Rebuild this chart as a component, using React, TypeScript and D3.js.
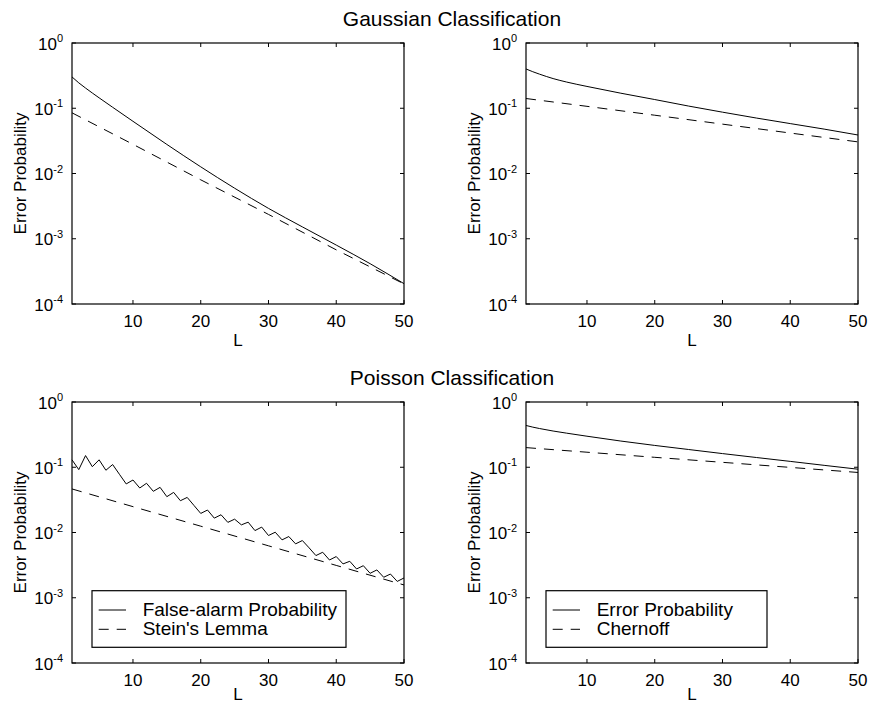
import React from 'react';
import * as d3 from 'd3';

// ---------- data ----------
const L_SMOOTH = [1, 2, 3, 5, 7, 10, 15, 20, 25, 30, 35, 40, 45, 50];
const L_BOUND = [1, 10, 20, 30, 40, 50];
const L_ALL = [
  1, 2, 3, 4, 5, 6, 7, 8, 9, 10, 11, 12, 13, 14, 15, 16, 17, 18, 19, 20, 21, 22, 23, 24, 25,
  26, 27, 28, 29, 30, 31, 32, 33, 34, 35, 36, 37, 38, 39, 40, 41, 42, 43, 44, 45, 46, 47, 48, 49, 50,
];

// Gaussian, left panel
const gaussFalseAlarm = [0.302, 0.245, 0.204, 0.1445, 0.1035, 0.0631, 0.0279, 0.01265, 0.00595, 0.00292, 0.00152, 0.000800, 0.000415, 0.000205];
const gaussStein = [0.0851, 0.0280, 0.00800, 0.00236, 0.000676, 0.000203];
// Gaussian, right panel
const gaussError = [0.400, 0.363, 0.333, 0.285, 0.252, 0.216, 0.170, 0.136, 0.108, 0.0871, 0.0708, 0.0582, 0.0479, 0.0389];
const gaussChernoff = [0.141, 0.107, 0.0782, 0.0571, 0.0417, 0.0305];
// Poisson, left panel
const poissonFalseAlarm = [
  0.130, 0.0920, 0.151, 0.102, 0.130, 0.0900, 0.110, 0.0780, 0.0555, 0.0638,
  0.0481, 0.0568, 0.0428, 0.0492, 0.0354, 0.0412, 0.0307, 0.0345, 0.0260, 0.0196,
  0.0221, 0.0166, 0.0187, 0.0143, 0.0160, 0.0131, 0.0144, 0.0107, 0.0121, 0.00899,
  0.0101, 0.00771, 0.00867, 0.00670, 0.00753, 0.00581, 0.00443, 0.00498, 0.00379, 0.00428,
  0.00330, 0.00362, 0.00276, 0.00310, 0.00237, 0.00267, 0.00206, 0.00231, 0.00178, 0.00201,
];
const poissonStein = [0.0465, 0.0249, 0.0125, 0.00625, 0.00313, 0.00157];
// Poisson, right panel
const poissonError = [0.437, 0.412, 0.392, 0.359, 0.333, 0.299, 0.252, 0.216, 0.187, 0.162, 0.141, 0.123, 0.107, 0.0933];
const poissonChernoff = [0.200, 0.170, 0.142, 0.119, 0.0995, 0.0832];

const X_TICKS = [10, 20, 30, 40, 50];
const Y_TICK_EXP = [0, -1, -2, -3, -4];
const TITLES = ['Gaussian Classification', 'Poisson Classification'];
const LEGEND_LEFT = ['False-alarm Probability', "Stein's Lemma"];
const LEGEND_RIGHT = ['Error Probability', 'Chernoff'];

// ---------- layout ----------
const W = 869;
const H = 704;
const FONT = '"Liberation Sans", Arial, Helvetica, sans-serif';
const COLS = [
  { left: 72, right: 404 },
  { left: 526, right: 858 },
];
const ROWS = [
  { top: 43, bottom: 304, xLabel: 346 },
  { top: 402, bottom: 663, xLabel: 700 },
];
const DASH = '10,8';

type Series = { xs: number[]; ys: number[]; dashed: boolean; curve: d3.CurveFactory };

function Panel({ col, row, series, legend, legendWidth }: {
  col: { left: number; right: number };
  row: { top: number; bottom: number; xLabel: number };
  series: Series[];
  legend?: string[];
  legendWidth?: number;
}) {
  const x = d3.scaleLinear().domain([1, 50]).range([col.left, col.right]);
  const y = d3.scaleLog().domain([1e-4, 1]).range([row.bottom, row.top]);
  const tick = 4;
  return (
    <g>
      {series.map((s, i) => {
        const line = d3
          .line<number>()
          .x((_, j) => x(s.xs[j]))
          .y((v) => y(v))
          .curve(s.curve);
        return (
          <path
            key={i}
            d={line(s.ys) || ''}
            fill="none"
            stroke="#000"
            strokeWidth={1}
            strokeDasharray={s.dashed ? DASH : undefined}
          />
        );
      })}
      <rect
        x={col.left}
        y={row.top}
        width={col.right - col.left}
        height={row.bottom - row.top}
        fill="none"
        stroke="#000"
        strokeWidth={1.2}
      />
      {X_TICKS.map((t) => (
        <g key={'x' + t}>
          <line x1={x(t)} x2={x(t)} y1={row.bottom} y2={row.bottom - tick} stroke="#000" />
          <line x1={x(t)} x2={x(t)} y1={row.top} y2={row.top + tick} stroke="#000" />
          <text x={x(t)} y={row.bottom + 23} textAnchor="middle" fontSize={17} fontFamily={FONT}>
            {t}
          </text>
        </g>
      ))}
      {Y_TICK_EXP.map((e) => {
        const yy = y(Math.pow(10, e));
        return (
          <g key={'y' + e}>
            <line x1={col.left} x2={col.left + tick} y1={yy} y2={yy} stroke="#000" />
            <line x1={col.right} x2={col.right - tick} y1={yy} y2={yy} stroke="#000" />
            <text x={col.left - 9} y={yy + 6.5} textAnchor="end" fontFamily={FONT}>
              <tspan fontSize={17}>10</tspan>
              <tspan fontSize={11} dy={-7.5}>{String(e)}</tspan>
            </text>
          </g>
        );
      })}
      <text
        x={(col.left + col.right) / 2}
        y={row.xLabel}
        textAnchor="middle"
        fontSize={17}
        fontFamily={FONT}
      >
        L
      </text>
      <text
        transform={`translate(${col.left - 46},${(row.top + row.bottom) / 2}) rotate(-90)`}
        textAnchor="middle"
        fontSize={17}
        fontFamily={FONT}
      >
        Error Probability
      </text>
      {legend && (
        <g>
          <rect
            x={col.left + 20}
            y={row.bottom - 72.3}
            width={legendWidth}
            height={56.6}
            fill="#fff"
            stroke="#000"
            strokeWidth={1.2}
          />
          {legend.map((lab, i) => (
            <g key={lab}>
              <line
                x1={col.left + 26.7}
                x2={col.left + 54}
                y1={row.bottom - 53 + i * 19.3}
                y2={row.bottom - 53 + i * 19.3}
                stroke="#000"
                strokeDasharray={i === 1 ? DASH : undefined}
              />
              <text
                x={col.left + 70.7}
                y={row.bottom - 47 + i * 19.3}
                fontSize={19}
                fontFamily={FONT}
              >
                {lab}
              </text>
            </g>
          ))}
        </g>
      )}
    </g>
  );
}

export default function App() {
  const smooth = d3.curveMonotoneX;
  const lin = d3.curveLinear;
  return (
    <svg
      width={W}
      height={H}
      style={{ position: 'absolute', left: 0, top: 0, background: '#fff' }}
    >
      <rect x={0} y={0} width={W} height={H} fill="#fff" />
      <text x={452} y={26} textAnchor="middle" fontSize={21} fontFamily={FONT}>
        {TITLES[0]}
      </text>
      <text x={452} y={385} textAnchor="middle" fontSize={21} fontFamily={FONT}>
        {TITLES[1]}
      </text>
      <Panel
        col={COLS[0]}
        row={ROWS[0]}
        series={[
          { xs: L_SMOOTH, ys: gaussFalseAlarm, dashed: false, curve: smooth },
          { xs: L_BOUND, ys: gaussStein, dashed: true, curve: lin },
        ]}
      />
      <Panel
        col={COLS[1]}
        row={ROWS[0]}
        series={[
          { xs: L_SMOOTH, ys: gaussError, dashed: false, curve: smooth },
          { xs: L_BOUND, ys: gaussChernoff, dashed: true, curve: lin },
        ]}
      />
      <Panel
        col={COLS[0]}
        row={ROWS[1]}
        series={[
          { xs: L_ALL, ys: poissonFalseAlarm, dashed: false, curve: lin },
          { xs: L_BOUND, ys: poissonStein, dashed: true, curve: lin },
        ]}
        legend={LEGEND_LEFT}
        legendWidth={254}
      />
      <Panel
        col={COLS[1]}
        row={ROWS[1]}
        series={[
          { xs: L_SMOOTH, ys: poissonError, dashed: false, curve: smooth },
          { xs: L_BOUND, ys: poissonChernoff, dashed: true, curve: lin },
        ]}
        legend={LEGEND_RIGHT}
        legendWidth={221}
      />
    </svg>
  );
}
